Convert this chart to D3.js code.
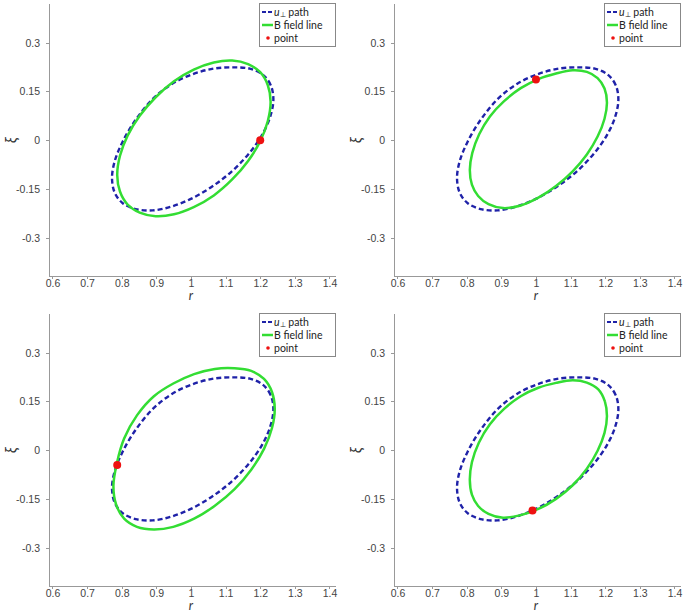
<!DOCTYPE html>
<html>
<head>
<meta charset="utf-8">
<script src="https://cdn.jsdelivr.net/npm/d3@7"></script>
<style>
  body { margin: 0; background: #fff; }
  svg { display: block; font-family: Lato, "Open Sans", sans-serif; }
  .axis path, .axis line { stroke: #999; shape-rendering: crispEdges; }
  .axis text { fill: #444; font-size: 10.5px; }
</style>
</head>
<body>
<div id="chart"></div>
<script>
// tick values
const rTicks = [0.6, 0.7, 0.8, 0.9, 1, 1.1, 1.2, 1.3, 1.4];
const xiTicks = [-0.3, -0.15, 0, 0.15, 0.3];

// u_perp path (same in every panel), [r, xi]
const uPerpPath = [
  [1.238, 0.127], [1.230, 0.170], [1.207, 0.202], [1.170, 0.220], [1.122, 0.224],
  [1.065, 0.220], [1.005, 0.203], [0.945, 0.173], [0.889, 0.126], [0.840, 0.062],
  [0.803, -0.004], [0.780, -0.064], [0.772, -0.117], [0.780, -0.162], [0.803, -0.194],
  [0.840, -0.212], [0.889, -0.216], [0.945, -0.204], [1.005, -0.178], [1.065, -0.140],
  [1.122, -0.092], [1.170, -0.038], [1.207, 0.019], [1.230, 0.076]
];

// B field lines, one per panel
const fieldLine1 = [
  [1.230, 0.118], [1.222, 0.169], [1.200, 0.209], [1.165, 0.234], [1.119, 0.245],
  [1.066, 0.239], [1.008, 0.217], [0.951, 0.181], [0.898, 0.132], [0.852, 0.075],
  [0.817, 0.014], [0.795, -0.048], [0.787, -0.107], [0.795, -0.158], [0.817, -0.198],
  [0.852, -0.223], [0.898, -0.234], [0.951, -0.228], [1.008, -0.206], [1.066, -0.170],
  [1.119, -0.121], [1.165, -0.064], [1.200, -0.003], [1.222, 0.059]
];
const fieldLine2 = [
  [1.205, 0.116], [1.198, 0.159], [1.178, 0.191], [1.147, 0.210], [1.106, 0.215],
  [1.058, 0.205], [1.007, 0.188], [0.956, 0.160], [0.908, 0.120], [0.867, 0.073],
  [0.836, 0.018], [0.816, -0.040], [0.809, -0.092], [0.815, -0.137], [0.833, -0.172],
  [0.863, -0.197], [0.905, -0.209], [0.956, -0.201], [1.007, -0.177], [1.058, -0.141],
  [1.106, -0.096], [1.147, -0.044], [1.178, 0.011], [1.198, 0.066]
];
const fieldLine3 = [
  [1.242, 0.128], [1.234, 0.179], [1.211, 0.219], [1.174, 0.244], [1.126, 0.252],
  [1.069, 0.250], [1.009, 0.234], [0.949, 0.205], [0.893, 0.166], [0.844, 0.107],
  [0.807, 0.036], [0.786, -0.040], [0.776, -0.110], [0.784, -0.168], [0.807, -0.211],
  [0.844, -0.236], [0.893, -0.244], [0.949, -0.236], [1.009, -0.211], [1.069, -0.171],
  [1.126, -0.120], [1.174, -0.060], [1.211, 0.004], [1.234, 0.068]
];
const fieldLine4 = [
  [1.205, 0.104], [1.199, 0.150], [1.180, 0.187], [1.147, 0.208], [1.106, 0.215],
  [1.058, 0.207], [1.007, 0.192], [0.956, 0.166], [0.908, 0.127], [0.867, 0.080],
  [0.835, 0.023], [0.815, -0.037], [0.809, -0.092], [0.815, -0.137], [0.833, -0.172],
  [0.863, -0.196], [0.905, -0.208], [0.956, -0.200], [1.007, -0.181], [1.058, -0.150],
  [1.106, -0.108], [1.147, -0.057], [1.178, -0.002], [1.198, 0.053]
];

// red point per panel
const points = [[1.200, 0.000], [1.000, 0.187], [0.787, -0.046], [0.990, -0.186]];
const fieldLines = [fieldLine1, fieldLine2, fieldLine3, fieldLine4];

const W = 685, H = 613;
const offsets = [[0, 0], [345, 0], [0, 310], [345, 310]];

const svg = d3.select('#chart').append('svg')
  .attr('width', W)
  .attr('height', H);

// scales (panel coordinates)
const x = d3.scaleLinear().domain([0.59, 1.416]).range([49, 335]);
const y = d3.scaleLinear().domain([-0.418, 0.422]).range([276, 3]);

const line = d3.line()
  .curve(d3.curveCatmullRomClosed)
  .x(d => x(d[0]))
  .y(d => y(d[1]));

offsets.forEach((off, i) => {
  const g = svg.append('g').attr('transform', `translate(${off[0]}, ${off[1]})`);

  // axes
  g.append('g')
    .attr('class', 'axis')
    .attr('transform', `translate(0, ${y.range()[0]})`)
    .call(d3.axisBottom(x).tickValues(rTicks).tickSize(3).tickSizeOuter(0).tickPadding(1).tickFormat(d => String(d)));
  g.append('g')
    .attr('class', 'axis')
    .attr('transform', `translate(${x.range()[0]}, 0)`)
    .call(d3.axisLeft(y).tickValues(xiTicks).tickSize(3).tickSizeOuter(0).tickPadding(6).tickFormat(d => String(d)));

  // axis labels
  g.append('text')
    .attr('x', x(1))
    .attr('y', 300)
    .attr('text-anchor', 'middle')
    .style('font-style', 'italic')
    .style('font-size', '12.5px')
    .attr('fill', '#333')
    .text('r');
  g.append('text')
    .attr('transform', `translate(16, ${y(0)}) rotate(-90)`)
    .attr('text-anchor', 'middle')
    .style('font-style', 'italic')
    .style('font-size', '15px')
    .attr('fill', '#333')
    .text('ξ');

  // curves
  g.append('path')
    .datum(uPerpPath)
    .attr('fill', 'none')
    .attr('stroke', '#1f22a8')
    .attr('stroke-width', 2.4)
    .attr('stroke-dasharray', '5,3')
    .attr('d', line);
  g.append('path')
    .datum(fieldLines[i])
    .attr('fill', 'none')
    .attr('stroke', '#33dd33')
    .attr('stroke-width', 2.5)
    .attr('d', line);
  g.append('circle')
    .attr('cx', x(points[i][0]))
    .attr('cy', y(points[i][1]))
    .attr('r', 4)
    .attr('fill', '#ee1111');

  // legend
  const lg = g.append('g').attr('transform', 'translate(259, 3)');
  lg.append('rect')
    .attr('width', 76).attr('height', 43)
    .attr('fill', '#fff').attr('stroke', '#888').attr('stroke-width', 1)
    .attr('shape-rendering', 'crispEdges');
  lg.append('line')
    .attr('x1', 3).attr('x2', 14).attr('y1', 9).attr('y2', 9)
    .attr('stroke', '#1f22a8').attr('stroke-width', 2).attr('stroke-dasharray', '4,2');
  lg.append('line')
    .attr('x1', 3).attr('x2', 14).attr('y1', 22).attr('y2', 22)
    .attr('stroke', '#33dd33').attr('stroke-width', 2.5);
  lg.append('circle')
    .attr('cx', 9).attr('cy', 35).attr('r', 1.8).attr('fill', '#ee1111');

  const t1 = lg.append('text').attr('x', 15).attr('y', 13).style('font-size', '10.5px').attr('fill', '#222');
  t1.append('tspan').style('font-style', 'italic').text('u');
  t1.append('tspan').attr('dy', 1).style('font-size', '7px').text('\u22A5');
  t1.append('tspan').attr('dy', -1).text('\u00A0path');
  lg.append('text').attr('x', 15).attr('y', 26).style('font-size', '10.5px').attr('fill', '#222').text('B field line');
  lg.append('text').attr('x', 15).attr('y', 39).style('font-size', '10.5px').attr('fill', '#222').text('point');
});
</script>
</body>
</html>
